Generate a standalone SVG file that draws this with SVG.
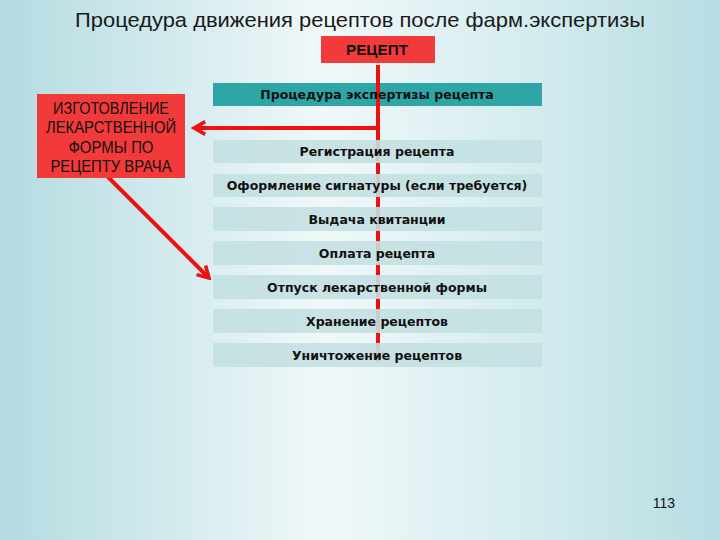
<svg xmlns="http://www.w3.org/2000/svg" width="720" height="540" viewBox="0 0 720 540">
<defs>
<linearGradient id="bg" x1="0" y1="0" x2="1" y2="0">
<stop offset="0" stop-color="#b3dbe1"/>
<stop offset="0.45" stop-color="#f0f8f9"/>
<stop offset="0.75" stop-color="#d3ebee"/>
<stop offset="1" stop-color="#b7dde2"/>
</linearGradient>
<marker id="ah" viewBox="0 0 10 10" refX="8" refY="5" markerWidth="4" markerHeight="4" orient="auto-start-reverse" markerUnits="strokeWidth">
<path d="M1,1 L8,5 L1,9" fill="none" stroke="#ee1111" stroke-width="2.2"/>
</marker>
<marker id="ahg" viewBox="0 0 10 10" refX="8" refY="5" markerWidth="3.5" markerHeight="3.5" orient="auto" markerUnits="strokeWidth">
<path d="M1,1 L8,5 L1,9" fill="none" stroke="#ee1111" stroke-width="2"/>
</marker>
<style>
.step{fill:#c4e0e2;fill-opacity:0.9}
.lbl{font-family:"DejaVu Sans",sans-serif;font-weight:bold;font-size:12.5px;fill:#111;text-anchor:middle}
.red{fill:#f23a3a}
.cap{font-family:"Liberation Sans",Arial,sans-serif;font-size:16px;fill:#111;text-anchor:middle}
.ln{stroke:#ee1111;stroke-width:4;fill:none}
</style>
</defs>
<rect x="0" y="0" width="720" height="540" fill="url(#bg)"/>
<text x="360" y="27" font-family="'Liberation Sans',Arial,sans-serif" font-size="21" fill="#1a1a1a" text-anchor="middle" textLength="570" lengthAdjust="spacingAndGlyphs">Процедура движения рецептов после фарм.экспертизы</text>

<g id="recept">
<rect class="red" x="321" y="36" width="114" height="27"/>
<text x="377" y="55" font-family="'Liberation Sans',Arial,sans-serif" font-weight="bold" font-size="15" fill="#111" text-anchor="middle" textLength="62" lengthAdjust="spacingAndGlyphs">РЕЦЕПТ</text>
</g>

<g id="expertiza">
<rect x="213" y="83" width="329" height="23" fill="#2ea6a6"/>
</g>

<g id="connectors">
<line class="ln" x1="378" y1="65" x2="378" y2="361" marker-end="url(#ahg)"/>
<line class="ln" x1="378" y1="128" x2="194" y2="128" marker-end="url(#ah)"/>
<line class="ln" x1="108" y1="177" x2="209" y2="278" marker-end="url(#ah)"/>
</g>

<g id="expertiza-label">
<text class="lbl" x="377" y="99">Процедура экспертизы рецепта</text>
</g>

<g id="izgotovlenie">
<rect class="red" x="37" y="94" width="148" height="84"/>
<text class="cap" x="111" y="114" textLength="116" lengthAdjust="spacingAndGlyphs">ИЗГОТОВЛЕНИЕ</text>
<text class="cap" x="111" y="133" textLength="130" lengthAdjust="spacingAndGlyphs">ЛЕКАРСТВЕННОЙ</text>
<text class="cap" x="111" y="152.5" textLength="85" lengthAdjust="spacingAndGlyphs">ФОРМЫ ПО</text>
<text class="cap" x="111" y="171.5" textLength="121" lengthAdjust="spacingAndGlyphs">РЕЦЕПТУ ВРАЧА</text>
</g>

<g id="registraciya">
<rect class="step" x="213" y="140" width="329" height="23"/>
<text class="lbl" x="377" y="156">Регистрация рецепта</text>
</g>
<g id="signatura">
<rect class="step" x="213" y="174" width="329" height="23"/>
<text class="lbl" x="377" y="190">Оформление сигнатуры (если требуется)</text>
</g>
<g id="kvitanciya">
<rect class="step" x="213" y="207" width="329" height="24"/>
<text class="lbl" x="377" y="224">Выдача квитанции</text>
</g>
<g id="oplata">
<rect class="step" x="213" y="241" width="329" height="24"/>
<text class="lbl" x="377" y="258">Оплата рецепта</text>
</g>
<g id="otpusk">
<rect class="step" x="213" y="275" width="329" height="24"/>
<text class="lbl" x="377" y="292">Отпуск лекарственной формы</text>
</g>
<g id="hranenie">
<rect class="step" x="213" y="309" width="329" height="24"/>
<text class="lbl" x="377" y="326">Хранение рецептов</text>
</g>
<g id="unichtozhenie">
<rect class="step" x="213" y="343" width="329" height="24"/>
<text class="lbl" x="377" y="360">Уничтожение рецептов</text>
</g>

<text x="664" y="508" font-family="'Liberation Sans',Arial,sans-serif" font-size="14" fill="#111" text-anchor="middle">113</text>
</svg>
